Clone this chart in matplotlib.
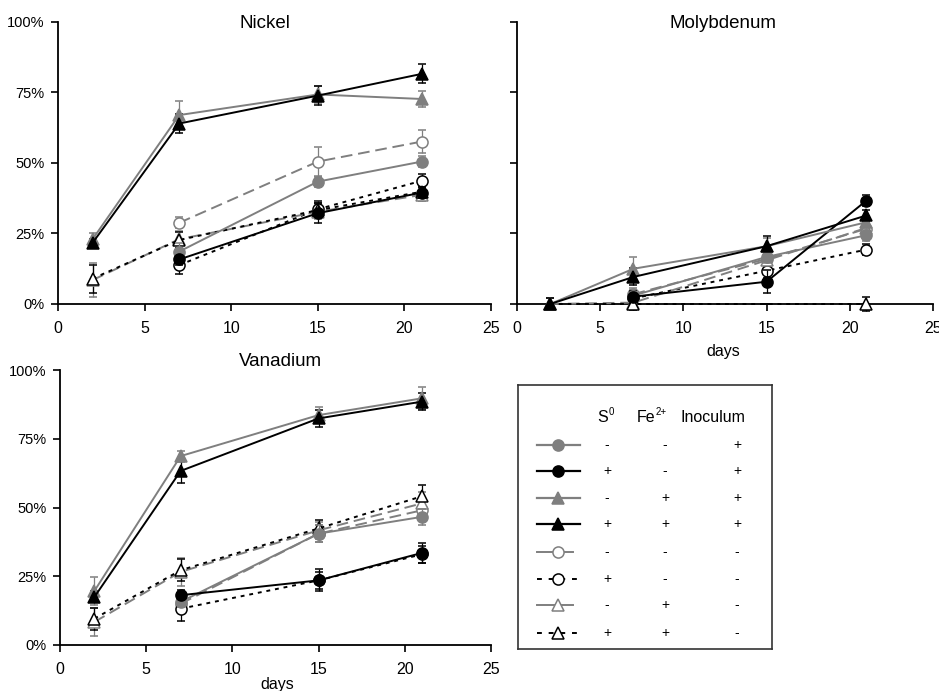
import matplotlib
matplotlib.use("Agg")
import matplotlib.pyplot as plt
from matplotlib.ticker import FuncFormatter

plt.rcParams["font.family"] = ["Liberation Sans", "DejaVu Sans"]

# sampling days: circles start at day 7, triangles at day 2
days_circ = [7, 15, 21]
days_tri = [2, 7, 15, 21]

# series order: gray filled circle, black filled circle, gray filled triangle, black filled triangle,
# gray open circle, black open circle, gray open triangle, black open triangle
nickel_vals = [
    [18.6, 43.4, 50.5],
    [15.8, 32.2, 39.5],
    [23.0, 67.0, 74.3, 72.7],
    [21.7, 64.0, 73.9, 81.6],
    [28.8, 50.5, 57.6],
    [13.8, 33.6, 43.7],
    [8.5, 23.0, 32.7, 38.7],
    [9.0, 22.7, 33.3, 39.8],
]
nickel_err = [
    [3, 2, 2],
    [2, 3.5, 2],
    [2, 5, 3, 3],
    [1.5, 3.5, 3.3, 3.4],
    [2, 5.3, 4],
    [3, 3, 2.5],
    [6, 3, 2.5, 2],
    [5, 3, 2.5, 2],
]
molybdenum_vals = [
    [3.0, 16.7, 24.4],
    [2.6, 7.9, 36.7],
    [0.0, 12.5, 20.5, 29.0],
    [0.0, 9.6, 20.5, 31.4],
    [3.5, 16.0, 26.7],
    [2.0, 11.8, 19.3],
    [0.0, 0.5, 15.5, 27.0],
    [0.0, 0.0, 0.0, 0.0],
]
molybdenum_err = [
    [2, 2, 2],
    [2, 4, 2],
    [2, 4, 3, 2],
    [2, 3, 3.5, 2],
    [2, 2, 2],
    [2, 2.5, 2],
    [2, 2, 2, 2],
    [2, 2, 0, 2.5],
]
# the Mo no-inoculum S0+Fe2+ series shows no marker on day 15
molybdenum_marks = [None, None, None, None, None, None, None, [0, 1, 3]]
vanadium_vals = [
    [15.7, 40.5, 46.6],
    [18.1, 23.5, 33.5],
    [19.7, 68.7, 83.6, 89.7],
    [17.5, 63.3, 82.4, 88.5],
    [15.0, 40.5, 49.0],
    [13.2, 23.5, 33.0],
    [8.4, 26.6, 41.7, 51.5],
    [9.6, 27.2, 42.4, 54.1],
]
vanadium_err = [
    [2, 3, 3],
    [2, 4, 3.5],
    [5, 2, 3, 4],
    [2, 4.5, 3, 3],
    [2, 3, 2.5],
    [4.5, 3, 3],
    [5, 5, 3, 4],
    [4, 4, 3, 4],
]

legend_s0 = ["-", "+", "-", "+", "-", "+", "-", "+"]
legend_fe = ["-", "-", "+", "+", "-", "-", "+", "+"]
legend_inoc = ["+", "+", "+", "+", "-", "-", "-", "-"]

GRAY = "#7f7f7f"
styles = [
    dict(color=GRAY, marker="o", mfc=GRAY, ls="-"),
    dict(color="black", marker="o", mfc="black", ls="-"),
    dict(color=GRAY, marker="^", mfc=GRAY, ls="-"),
    dict(color="black", marker="^", mfc="black", ls="-"),
    dict(color=GRAY, marker="o", mfc="white", ls=(0, (6, 3))),
    dict(color="black", marker="o", mfc="white", ls=(0, (2, 2.5))),
    dict(color=GRAY, marker="^", mfc="white", ls=(0, (6, 3))),
    dict(color="black", marker="^", mfc="white", ls=(0, (2, 2.5))),
]

W, H = 939, 691
fig = plt.figure(figsize=(W / 100, H / 100), dpi=100)


def px_axes(left, top, right, bottom):
    return fig.add_axes([left / W, 1 - bottom / H, (right - left) / W, (bottom - top) / H])


def draw_panel(ax, vals, errs, ylabels=True, marks=None):
    for i, (v, e) in enumerate(zip(vals, errs)):
        st = styles[i]
        x = days_tri if len(v) == 4 else days_circ
        filled = st["mfc"] != "white"
        ax.errorbar(x, v, yerr=e, color=st["color"], ls=st["ls"], lw=1.4,
                    marker=st["marker"], ms=8, mfc=st["mfc"], mec=st["color"], mew=1.1,
                    ecolor=st["color"], elinewidth=0.9, capsize=3, capthick=0.9,
                    markevery=marks[i] if marks else None,
                    clip_on=False, zorder=5 if filled else 3)
    ax.set_xlim(0, 25)
    ax.set_ylim(0, 100)
    ax.set_xticks([0, 5, 10, 15, 20, 25])
    ax.set_yticks([0, 25, 50, 75, 100])
    ax.yaxis.set_major_formatter(FuncFormatter(lambda y, p: f"{y:.0f}%"))
    if not ylabels:
        ax.set_yticklabels([])
    ax.spines["top"].set_visible(False)
    ax.spines["right"].set_visible(False)
    ax.spines["left"].set_linewidth(1.3)
    ax.spines["bottom"].set_linewidth(1.3)
    ax.tick_params(direction="out", length=5, width=1.2)
    ax.tick_params(axis="x", labelsize=11.5, pad=7)
    ax.tick_params(axis="y", labelsize=10.5, pad=4.5)


ax_ni = px_axes(58, 22, 491, 304)
draw_panel(ax_ni, nickel_vals, nickel_err)
ax_mo = px_axes(517, 22, 933, 304)
draw_panel(ax_mo, molybdenum_vals, molybdenum_err, ylabels=False, marks=molybdenum_marks)
ax_v = px_axes(60, 370, 491, 645)
draw_panel(ax_v, vanadium_vals, vanadium_err)

fig.text(265 / W, 1 - 23 / H, "Nickel", ha="center", va="center", fontsize=13.5)
fig.text(723 / W, 1 - 23 / H, "Molybdenum", ha="center", va="center", fontsize=13.5)
fig.text(280 / W, 1 - 362 / H, "Vanadium", ha="center", va="center", fontsize=13.5)
fig.text(723 / W, 1 - 352 / H, "days", ha="center", va="center", fontsize=11.5)
fig.text(277 / W, 1 - 684 / H, "days", ha="center", va="center", fontsize=11.5)

# legend box drawn as a small table
lx0, ly0, lx1, ly1 = 518, 385, 772, 649
lax = px_axes(lx0, ly0, lx1, ly1)
lax.set_xlim(lx0, lx1)
lax.set_ylim(ly1, ly0)
lax.set_xticks([])
lax.set_yticks([])
for s in lax.spines.values():
    s.set_linewidth(1.2)
    s.set_color("#333333")

lax.text(608, 418, "S", ha="right", va="center", fontsize=11.5)
lax.text(608.5, 412, "0", ha="left", va="center", fontsize=7)
lax.text(655, 418, "Fe", ha="right", va="center", fontsize=11.5)
lax.text(655.5, 412, "2+", ha="left", va="center", fontsize=7)
lax.text(713, 418, "Inoculum", ha="center", va="center", fontsize=11.5)
row_y = [445, 471, 498, 524, 552, 579, 605, 633]
for i, y in enumerate(row_y):
    st = styles[i]
    if i < 4:
        lax.plot([537, 580], [y, y], color=st["color"], ls="-", lw=1.6)
    elif st["color"] == GRAY:
        lax.plot([537, 573], [y, y], color=st["color"], ls="-", lw=1.4)
    else:
        lax.plot([537, 579], [y, y], color=st["color"], ls=(0, (2.5, 3.5)), lw=1.4)
    lax.plot([558], [y], color=st["color"], marker=st["marker"], ms=8,
             mfc=st["mfc"], mec=st["color"], mew=1.1, ls="none")
    lax.text(607, y, legend_s0[i], ha="center", va="center", fontsize=10)
    lax.text(665, y, legend_fe[i], ha="center", va="center", fontsize=10)
    lax.text(737, y, legend_inoc[i], ha="center", va="center", fontsize=10)

fig.savefig("out.png", dpi=100)
